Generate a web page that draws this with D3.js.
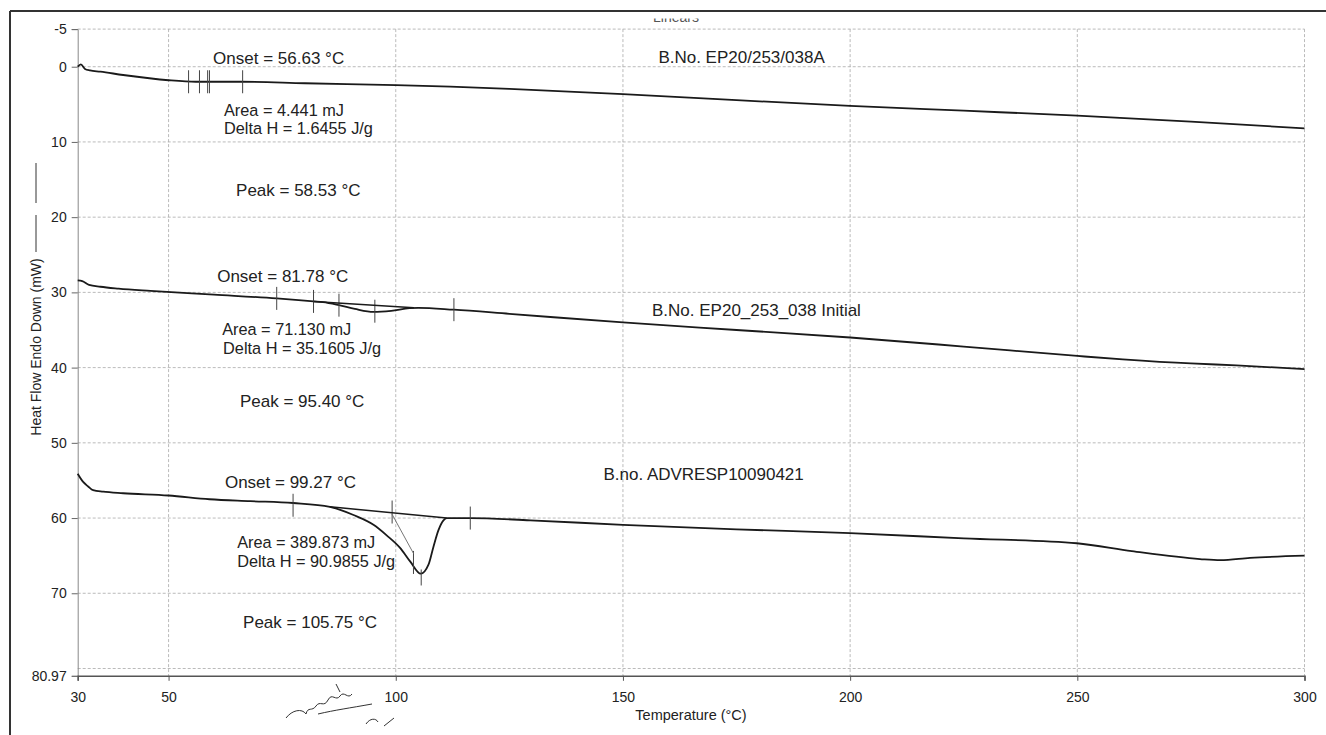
<!DOCTYPE html>
<html>
<head>
<meta charset="utf-8">
<script src="https://cdn.jsdelivr.net/npm/d3@7"></script>
<style>
  html, body { margin: 0; background: #fff; overflow: hidden; }
  svg { display: block; font-family: "Liberation Sans", Arial, sans-serif; }
</style>
</head>
<body>
<svg id="chart" width="1326" height="735"></svg>
<script>
// DSC thermograms, three batches (temperature in °C, heat flow in mW)

// top trace: B.No. EP20/253/038A
var t1 = [30, 30.7, 31.6, 32.7, 35, 40, 50, 56, 60, 66, 80, 100, 112, 125, 150, 175, 200, 225, 250, 275, 300];
var v1 = [0, -0.3, 0.3, 0.5, 0.66, 1.1, 1.8, 2.0, 2.0, 2.0, 2.2, 2.45, 2.66, 2.95, 3.65, 4.45, 5.2, 5.85, 6.5, 7.3, 8.2];
var tick1T = [54.4, 56.8, 58.6, 59.0, 66.3];
var tick1V = [2.0, 2.0, 2.0, 2.0, 2.0];

// middle trace: B.No. EP20_253_038 Initial
var t2 = [30, 31, 32.5, 35, 39, 46, 60, 73.8, 81.9, 84, 87.5, 91, 95.1, 99, 103, 105, 112.8, 125, 150, 175, 200, 225, 250, 260, 275, 285, 300];
var v2 = [28.4, 28.5, 29.0, 29.25, 29.5, 29.8, 30.3, 30.8, 31.2, 31.3, 31.7, 32.2, 32.6, 32.45, 32.1, 32.05, 32.3, 32.85, 34.0, 35.0, 36.0, 37.2, 38.45, 38.9, 39.45, 39.7, 40.2];
var tick2T = [73.8, 81.9, 87.5, 95.4, 112.8];
var tick2V = [30.8, 31.2, 31.7, 32.5, 32.3];
var base2T = [81.9, 104];
var base2V = [31.2, 32.05];

// bottom trace: B.no. ADVRESP10090421
var t3 = [30, 31.2, 32.3, 33.4, 35.6, 40, 50, 59, 68, 77.4, 85.5, 90.7, 95.1, 98, 101, 103.2, 105.5, 107.2, 108.3, 109.4, 110.5, 111.2, 116.4, 129.6, 150, 175, 200, 225, 249.9, 262, 277, 281.5, 288, 300];
var v3 = [54.1, 55.2, 55.8, 56.3, 56.5, 56.7, 57.0, 57.5, 57.75, 58.0, 58.5, 59.6, 60.9, 62.3, 64.0, 65.8, 67.4, 66.2, 63.8, 61.6, 60.3, 60.0, 60.0, 60.3, 60.9, 61.5, 62.0, 62.7, 63.35, 64.4, 65.45, 65.6, 65.3, 65.0];
var tick3T = [77.4, 99.2, 103.9, 105.6, 116.4];
var tick3V = [58.3, 59.2, 65.9, 67.9, 60.0];
var base3T = [85.5, 111.2];
var base3V = [58.5, 60.0];
var tan3T = [99.1, 103.9];
var tan3V = [59.4, 64.7];

// axes
var xTicks = [30, 50, 100, 150, 200, 250, 300];
var yTicks = [-5, 0, 10, 20, 30, 40, 50, 60, 70, 80.97];
var yGrid = [-5, 0, 10, 20, 30, 40, 50, 60, 70, 80];

// annotation texts, one group per trace
var labels1 = ["Onset = 56.63 °C", "Area = 4.441 mJ", "Delta H = 1.6455 J/g", "Peak = 58.53 °C", "B.No. EP20/253/038A"];
var labels2 = ["Onset = 81.78 °C", "Area = 71.130 mJ", "Delta H = 35.1605 J/g", "Peak = 95.40 °C", "B.No. EP20_253_038 Initial"];
var labels3 = ["Onset = 99.27 °C", "Area = 389.873 mJ", "Delta H = 90.9855 J/g", "Peak = 105.75 °C", "B.no. ADVRESP10090421"];

// where each annotation sits (temperature, heat flow at the text baseline)
var pos1 = [[59.8, -0.36], [62.2, 6.5], [62.2, 8.95], [64.85, 17.2], [157.8, -0.5]];
var pos2 = [[60.7, 28.6], [61.8, 35.7], [62.0, 38.15], [65.7, 45.2], [156.4, 33.2]];
var pos3 = [[62.4, 56.0], [65.1, 64.0], [65.1, 66.45], [66.4, 74.6], [145.7, 54.9]];

var svg = d3.select("#chart");

var x = d3.scaleLinear().domain([30, 300]).range([77.7, 1304.5]);
var y = d3.scaleLinear().domain([-5, 80.97]).range([29.1, 675.8]);

// page frame
svg.append("line").attr("x1", 10).attr("x2", 1326).attr("y1", 11).attr("y2", 11)
	.attr("stroke", "#333").attr("stroke-width", 2);
svg.append("line").attr("x1", 10).attr("x2", 10).attr("y1", 11).attr("y2", 735)
	.attr("stroke", "#333").attr("stroke-width", 2);

// clipped header text
svg.append("clipPath").attr("id", "hdr").append("rect")
	.attr("x", 0).attr("y", 18.5).attr("width", 1326).attr("height", 4);
svg.append("text").attr("clip-path", "url(#hdr)")
	.attr("x", 676).attr("y", 22).attr("text-anchor", "middle")
	.attr("font-size", "14px").attr("fill", "#555").text("Linears");

// grid
svg.append("g").selectAll("line").data(yGrid).enter().append("line")
	.attr("x1", x(30)).attr("x2", x(300))
	.attr("y1", function(d) { return y(d); }).attr("y2", function(d) { return y(d); })
	.attr("stroke", "#aaa").attr("stroke-width", 0.8).attr("stroke-dasharray", "3,2");
svg.append("g").selectAll("line").data(xTicks.slice(1)).enter().append("line")
	.attr("x1", function(d) { return x(d); }).attr("x2", function(d) { return x(d); })
	.attr("y1", y(-5)).attr("y2", y(80.97))
	.attr("stroke", "#aaa").attr("stroke-width", 0.8).attr("stroke-dasharray", "3,2");

// axes
var yAxis = svg.append("g").attr("transform", "translate(" + x(30) + ",0)")
	.call(d3.axisLeft(y).tickValues(yTicks).tickSize(6).tickPadding(5)
		.tickFormat(function(d) { return d === 80.97 ? "80.97" : String(d); }));
yAxis.select(".domain").attr("stroke", "#888");
yAxis.selectAll(".tick line").attr("stroke", "#666");
yAxis.selectAll("text").attr("font-size", "14px").attr("fill", "#222")
	.attr("font-family", "Liberation Sans, Arial, sans-serif");

var xAxis = svg.append("g").attr("transform", "translate(0," + y(80.97) + ")")
	.call(d3.axisBottom(x).tickValues(xTicks).tickSize(5).tickPadding(11)
		.tickFormat(function(d) { return String(d); }));
xAxis.select(".domain").attr("stroke", "#555").attr("stroke-width", 1.5);
xAxis.selectAll(".tick line").attr("stroke", "#555");
xAxis.selectAll("text").attr("font-size", "14px").attr("fill", "#222")
	.attr("font-family", "Liberation Sans, Arial, sans-serif");

// axis titles
svg.append("text").attr("x", 691).attr("y", 720).attr("text-anchor", "middle")
	.attr("font-size", "14.5px").attr("fill", "#222").text("Temperature (°C)");
svg.append("text").attr("transform", "translate(41,347) rotate(-90)")
	.attr("text-anchor", "middle").attr("font-size", "14px").attr("fill", "#222")
	.text("Heat Flow Endo Down (mW)");
svg.append("line").attr("x1", 36).attr("x2", 36).attr("y1", 215).attr("y2", 252)
	.attr("stroke", "#333").attr("stroke-width", 1);
svg.append("line").attr("x1", 36).attr("x2", 36).attr("y1", 163).attr("y2", 203)
	.attr("stroke", "#333").attr("stroke-width", 1);

// traces
var line = d3.line()
	.x(function(d) { return x(d[0]); })
	.y(function(d) { return y(d[1]); })
	.curve(d3.curveMonotoneX);

var straight = d3.line()
	.x(function(d) { return x(d[0]); })
	.y(function(d) { return y(d[1]); });

var traces = [
	{ t: t1, v: v1, tt: tick1T, tv: tick1V, labels: labels1, pos: pos1 },
	{ t: t2, v: v2, tt: tick2T, tv: tick2V, labels: labels2, pos: pos2 },
	{ t: t3, v: v3, tt: tick3T, tv: tick3V, labels: labels3, pos: pos3 }
];

traces.forEach(function(tr) {
	var pts = tr.t.map(function(d, i) { return [d, tr.v[i]]; });
	svg.append("path").attr("d", line(pts))
		.attr("fill", "none").attr("stroke", "#1a1a1a").attr("stroke-width", 1.8)
		.attr("stroke-linejoin", "round");

	tr.tt.forEach(function(d, i) {
		var half = (tr === traces[2] && i === 3) ? 8 : 11.5;
		svg.append("line")
			.attr("x1", x(d)).attr("x2", x(d))
			.attr("y1", y(tr.tv[i]) - half).attr("y2", y(tr.tv[i]) + half)
			.attr("stroke", "#444").attr("stroke-width", 1);
	});

	tr.labels.forEach(function(s, i) {
		// the area / delta H pair sits tight, so it gets a slightly smaller size
		svg.append("text")
			.attr("x", x(tr.pos[i][0])).attr("y", y(tr.pos[i][1]))
			.attr("font-size", (i === 1 || i === 2) ? "16.3px" : "17px")
			.attr("fill", "#222").text(s);
	});
});

// integration baselines and onset tangent
svg.append("path").attr("d", straight(base2T.map(function(d, i) { return [d, base2V[i]]; })))
	.attr("fill", "none").attr("stroke", "#1a1a1a").attr("stroke-width", 1.5);
svg.append("path").attr("d", straight(base3T.map(function(d, i) { return [d, base3V[i]]; })))
	.attr("fill", "none").attr("stroke", "#1a1a1a").attr("stroke-width", 1.5);
svg.append("path").attr("d", straight(tan3T.map(function(d, i) { return [d, tan3V[i]]; })))
	.attr("fill", "none").attr("stroke", "#777").attr("stroke-width", 1);

// signature scribble under the axis
var sig = svg.append("g").attr("fill", "none").attr("stroke", "#333").attr("stroke-width", 1);
sig.append("path").attr("d", "M286,718 C292,710 302,708 306,714 C308,706 312,712 316,706 C320,700 324,708 328,700 C332,692 336,702 340,696 C344,690 348,700 352,694");
sig.append("path").attr("d", "M318,714 C335,710 350,708 372,704");
sig.append("path").attr("d", "M336,684 L340,692");
sig.append("path").attr("d", "M366,724 C370,718 376,718 378,722 M384,726 L394,718");
</script>
</body>
</html>
